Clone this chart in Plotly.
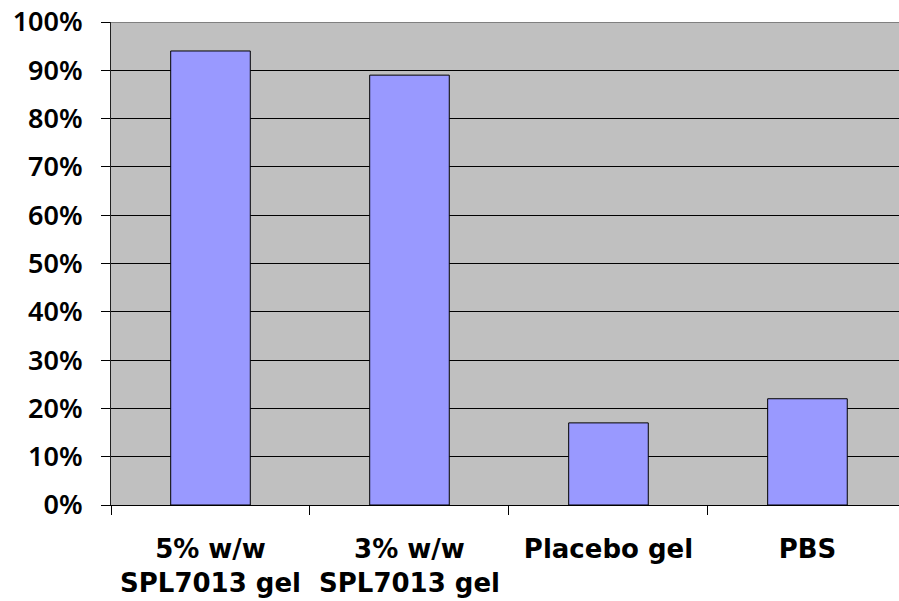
import plotly.graph_objects as go

categories = ["5% w/w<br>SPL7013 gel", "3% w/w<br>SPL7013 gel", "Placebo gel", "PBS"]
values = [0.94, 0.89, 0.17, 0.22]
y_ticks = [0, 0.1, 0.2, 0.3, 0.4, 0.5, 0.6, 0.7, 0.8, 0.9, 1.0]

fig = go.Figure()
fig.add_trace(go.Bar(
    x=categories, y=values, width=0.4,
    marker=dict(color="#9999FF", line=dict(color="#000000", width=1)),
    showlegend=False,
))

fig.add_shape(type="line", xref="paper", yref="y", x0=0, x1=1, y0=1, y1=1,
              line=dict(color="#808080", width=2))

fig.update_layout(
    width=899, height=601,
    margin=dict(l=111, r=0, t=22, b=96),
    paper_bgcolor="white", plot_bgcolor="#C0C0C0",
    font=dict(family="Noto Sans", size=20, color="black"),
)
fig.update_xaxes(
    type="category", range=[-0.5, 3.46], tickson="boundaries",
    ticks="outside", ticklen=9, tickcolor="#000000", tickwidth=1,
    showline=True, linecolor="#000000", linewidth=1,
    tickfont=dict(family="DejaVu Sans", size=26, color="black", weight="bold"),
    ticklabelstandoff=21,
    showgrid=False, fixedrange=True,
)
fig.update_yaxes(
    range=[0, 1], tickvals=y_ticks, tickformat=".0%",
    ticks="outside", ticklen=9, tickcolor="#000000",
    showline=True, linecolor="#202020", linewidth=1,
    showgrid=True, gridcolor="#000000", gridwidth=1,
    zeroline=False, ticklabelstandoff=13,
    tickfont=dict(family="Noto Sans", size=27, color="black", weight=600),
)

fig.write_html(
    "out.html",
    config={"displayModeBar": False},
    post_script="document.body.style.margin='0';document.body.style.overflow='hidden';document.documentElement.style.overflow='hidden';",
)
